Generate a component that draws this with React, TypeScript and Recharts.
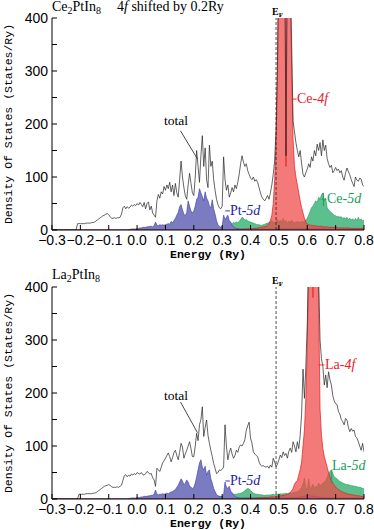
import React from 'react';
import { ComposedChart, Area, Line, XAxis, YAxis } from 'recharts';

// energy grid: -0.3 .. 0.8 Ry, 0.005 Ry per point (221 points, 20 per row)
const E_START = -0.3;
const E_STEP = 0.005;

// Ce2PtIn8 (4f shifted by 0.2Ry)
const CE_TOTAL = [
  0, 0, 0, 0, 0, 0, 0, 0, 0, 0, 0, 0, 0, 0, 0, 0, 0, 0, 12, 12,
  12, 12, 12, 12, 13, 13, 13, 13, 14, 14, 15, 17, 19, 21, 23, 25, 27, 28, 30, 31,
  29, 25, 22, 22, 23, 22, 23, 23, 24, 30, 42, 45, 40, 44, 41, 43, 47, 45, 48, 46,
  50, 47, 52, 48, 44, 52, 40, 50, 53, 38, 45, 32, 28, 24, 55, 67, 60, 72, 68, 82,
  75, 85, 78, 90, 72, 85, 65, 88, 70, 62, 95, 130, 100, 80, 65, 58, 85, 107, 88, 70,
  65, 100, 150, 120, 90, 140, 178, 120, 155, 95, 80, 160, 120, 130, 95, 75, 58, 48, 42, 40,
  45, 138, 95, 75, 85, 62, 70, 80, 72, 85, 78, 90, 105, 125, 140, 128, 120, 125, 112, 105,
  98, 95, 100, 92, 95, 90, 80, 70, 62, 58, 55, 60, 65, 58, 70, 85, 105, 130, 190, 320,
  560, 690, 600, 520, 640, 140, 620, 680, 490, 350, 205, 185, 165, 150, 138, 150, 125, 105, 100, 108,
  115, 125, 118, 138, 130, 150, 140, 162, 150, 165, 140, 170, 150, 160, 135, 125, 118, 122, 108, 112,
  118, 112, 115, 108, 112, 100, 94, 108, 117, 110, 104, 95, 88, 82, 100, 94, 92, 98, 96, 85,
  82,
];
const CE_PT5D = [
  0, 0, 0, 0, 0, 0, 0, 0, 0, 0, 0, 0, 0, 0, 0, 0, 0, 0, 0, 0,
  0, 0, 0, 0, 0, 0, 0, 0, 0, 0, 0, 0, 0, 0, 0, 0, 0, 0, 0, 0,
  0, 0, 0, 0, 0, 0, 0, 0, 0, 0, 0, 0, 0, 0, 1, 1, 2, 2, 2, 2,
  3, 3, 4, 4, 5, 5, 5, 6, 6, 7, 7, 6, 8, 15, 9, 8, 10, 9, 10, 9,
  10, 11, 12, 11, 16, 14, 18, 22, 28, 33, 44, 48, 38, 30, 27, 33, 55, 45, 36, 32,
  36, 45, 58, 62, 78, 70, 63, 55, 72, 60, 55, 45, 42, 57, 40, 30, 18, 10, 7, 5,
  6, 28, 20, 24, 28, 18, 15, 9, 6, 4, 3, 3, 2, 2, 2, 2, 2, 2, 2, 2,
  2, 2, 2, 2, 2, 2, 2, 2, 2, 2, 2, 2, 2, 2, 2, 2, 2, 2, 2, 2,
  2, 2, 3, 2, 2, 3, 2, 2, 3, 2, 2, 3, 2, 2, 3, 2, 2, 3, 3, 3,
  3, 3, 4, 3, 3, 4, 3, 3, 3, 3, 3, 3, 3, 2, 2, 2, 2, 2, 2, 2,
  2, 2, 2, 2, 2, 2, 2, 2, 2, 2, 2, 2, 2, 2, 2, 2, 2, 2, 2, 2,
  2,
];
const CE_5D = [
  0, 0, 0, 0, 0, 0, 0, 0, 0, 0, 0, 0, 0, 0, 0, 0, 0, 0, 0, 0,
  0, 0, 0, 0, 0, 0, 0, 0, 0, 0, 0, 0, 0, 0, 0, 0, 0, 0, 0, 0,
  0, 0, 0, 0, 0, 0, 0, 0, 0, 0, 0, 0, 0, 0, 0, 0, 0, 0, 0, 0,
  1, 1, 1, 1, 2, 2, 2, 2, 2, 2, 3, 3, 3, 3, 3, 3, 3, 3, 3, 3,
  3, 4, 3, 4, 4, 4, 4, 4, 5, 4, 5, 5, 5, 5, 4, 5, 5, 5, 5, 5,
  5, 5, 6, 5, 6, 6, 6, 6, 5, 6, 6, 6, 5, 5, 5, 5, 5, 5, 5, 5,
  6, 7, 8, 9, 10, 10, 11, 12, 14, 13, 15, 14, 16, 20, 24, 22, 18, 20, 17, 16,
  15, 14, 13, 12, 11, 10, 10, 9, 9, 10, 11, 12, 13, 14, 16, 18, 15, 14, 17, 20,
  14, 19, 13, 22, 15, 18, 12, 17, 14, 19, 13, 15, 14, 16, 15, 14, 16, 15, 17, 19,
  22, 28, 35, 42, 45, 50, 55, 52, 62, 58, 66, 70, 55, 60, 42, 38, 35, 33, 30, 28,
  27, 25, 26, 24, 25, 22, 23, 21, 24, 20, 22, 19, 21, 18, 22, 17, 24, 18, 21, 17,
  19,
];
const CE_4F = [
  0, 0, 0, 0, 0, 0, 0, 0, 0, 0, 0, 0, 0, 0, 0, 0, 0, 0, 0, 0,
  0, 0, 0, 0, 0, 0, 0, 0, 0, 0, 0, 0, 0, 0, 0, 0, 0, 0, 0, 0,
  0, 0, 0, 0, 0, 0, 0, 0, 0, 0, 0, 0, 0, 0, 0, 0, 0, 0, 0, 0,
  0, 0, 0, 0, 0, 0, 0, 0, 0, 0, 0, 0, 0, 0, 0, 0, 0, 0, 0, 0,
  0, 0, 0, 0, 0, 0, 0, 0, 0, 0, 0, 0, 0, 0, 0, 0, 0, 0, 0, 0,
  0, 0, 0, 0, 0, 0, 0, 0, 0, 0, 0, 0, 0, 0, 0, 0, 0, 0, 0, 0,
  0, 0, 0, 0, 0, 0, 0, 0, 0, 0, 1, 1, 1, 1, 1, 1, 1, 2, 2, 2,
  2, 2, 3, 3, 3, 4, 4, 5, 5, 6, 6, 7, 9, 12, 18, 28, 50, 95, 165, 290,
  520, 650, 560, 480, 600, 120, 580, 640, 450, 300, 170, 120, 100, 85, 70, 55, 42, 32, 22, 15,
  11, 10, 9, 9, 8, 8, 8, 7, 7, 7, 7, 6, 6, 6, 6, 5, 5, 5, 5, 5,
  5, 5, 4, 4, 4, 4, 4, 4, 4, 4, 4, 3, 3, 3, 3, 3, 3, 3, 3, 3,
  3,
];

// La2PtIn8
const LA_TOTAL = [
  0, 0, 0, 0, 0, 0, 0, 0, 0, 0, 0, 0, 0, 0, 0, 0, 0, 0, 0, 9,
  9, 9, 9, 9, 10, 10, 10, 10, 10, 11, 11, 12, 14, 16, 18, 20, 22, 24, 25, 26,
  27, 26, 23, 22, 22, 22, 23, 22, 24, 26, 35, 44, 46, 42, 45, 43, 47, 45, 48, 46,
  50, 48, 47, 50, 46, 45, 48, 52, 50, 47, 48, 40, 36, 24, 58, 55, 52, 60, 68, 72,
  77, 82, 87, 80, 70, 78, 88, 92, 82, 74, 88, 105, 98, 77, 85, 92, 100, 108, 95, 80,
  80, 100, 124, 110, 140, 150, 174, 118, 135, 149, 120, 105, 92, 80, 67, 58, 48, 50, 55, 54,
  56, 60, 140, 100, 74, 88, 96, 85, 77, 82, 92, 88, 98, 102, 100, 105, 112, 130, 138, 145,
  115, 105, 89, 85, 82, 80, 70, 64, 62, 63, 61, 60, 62, 58, 64, 60, 77, 70, 61, 66,
  74, 83, 78, 89, 82, 86, 77, 90, 96, 88, 108, 100, 89, 108, 95, 120, 160, 245, 190, 250,
  330, 470, 650, 560, 420, 640, 700, 600, 420, 300, 265, 250, 215, 234, 210, 240, 225, 215, 195, 185,
  180, 178, 165, 160, 150, 146, 140, 152, 149, 135, 127, 133, 128, 130, 118, 115, 108, 100, 92, 105,
  89,
];
const LA_PT5D = [
  0, 0, 0, 0, 0, 0, 0, 0, 0, 0, 0, 0, 0, 0, 0, 0, 0, 0, 0, 0,
  0, 0, 0, 0, 0, 0, 0, 0, 0, 0, 0, 0, 0, 0, 0, 0, 0, 0, 0, 0,
  0, 0, 0, 0, 0, 0, 0, 0, 0, 0, 0, 0, 0, 0, 1, 1, 2, 2, 2, 2,
  3, 3, 3, 4, 4, 5, 5, 5, 6, 6, 7, 7, 9, 17, 9, 8, 9, 9, 10, 9,
  10, 11, 10, 12, 13, 14, 16, 18, 22, 26, 32, 38, 34, 27, 30, 36, 32, 25, 22, 20,
  22, 30, 42, 55, 68, 74, 60, 55, 62, 45, 52, 55, 38, 30, 20, 14, 9, 6, 5, 4,
  4, 8, 32, 22, 20, 24, 15, 12, 8, 5, 3, 3, 2, 2, 2, 2, 2, 2, 2, 2,
  2, 2, 2, 2, 2, 2, 2, 2, 2, 2, 2, 2, 2, 2, 2, 2, 2, 2, 2, 2,
  2, 2, 2, 2, 2, 3, 2, 2, 3, 2, 2, 3, 3, 3, 3, 4, 4, 5, 5, 6,
  6, 7, 6, 5, 6, 5, 5, 4, 4, 3, 3, 3, 3, 3, 2, 2, 2, 2, 2, 2,
  2, 2, 2, 2, 2, 2, 2, 2, 2, 2, 2, 2, 2, 2, 2, 2, 2, 2, 2, 2,
  2,
];
const LA_5D = [
  0, 0, 0, 0, 0, 0, 0, 0, 0, 0, 0, 0, 0, 0, 0, 0, 0, 0, 0, 0,
  0, 0, 0, 0, 0, 0, 0, 0, 0, 0, 0, 0, 0, 0, 0, 0, 0, 0, 0, 0,
  0, 0, 0, 0, 0, 0, 0, 0, 0, 0, 0, 0, 0, 0, 0, 0, 0, 0, 0, 0,
  1, 1, 1, 1, 2, 2, 2, 2, 2, 2, 3, 3, 3, 3, 3, 3, 3, 3, 3, 3,
  3, 3, 4, 3, 4, 4, 4, 4, 4, 4, 5, 4, 5, 5, 4, 5, 5, 5, 5, 5,
  5, 5, 5, 5, 6, 5, 6, 6, 5, 6, 5, 5, 5, 5, 5, 5, 5, 5, 5, 5,
  5, 6, 7, 7, 7, 8, 8, 8, 9, 9, 9, 10, 10, 11, 12, 13, 16, 18, 20, 19,
  16, 13, 11, 10, 9, 9, 8, 8, 8, 7, 7, 7, 8, 7, 8, 8, 9, 8, 9, 9,
  9, 10, 9, 10, 10, 11, 10, 11, 12, 11, 12, 13, 12, 14, 15, 18, 22, 28, 40, 20,
  18, 38, 20, 22, 28, 20, 24, 22, 30, 25, 28, 30, 32, 35, 40, 48, 52, 55, 48, 42,
  40, 38, 35, 33, 32, 30, 29, 28, 27, 27, 26, 25, 25, 24, 24, 23, 22, 22, 21, 20,
  20,
];
const LA_4F = [
  0, 0, 0, 0, 0, 0, 0, 0, 0, 0, 0, 0, 0, 0, 0, 0, 0, 0, 0, 0,
  0, 0, 0, 0, 0, 0, 0, 0, 0, 0, 0, 0, 0, 0, 0, 0, 0, 0, 0, 0,
  0, 0, 0, 0, 0, 0, 0, 0, 0, 0, 0, 0, 0, 0, 0, 0, 0, 0, 0, 0,
  0, 0, 0, 0, 0, 0, 0, 0, 0, 0, 0, 0, 0, 0, 0, 0, 0, 0, 0, 0,
  0, 0, 0, 0, 0, 0, 0, 0, 0, 0, 0, 0, 0, 0, 0, 0, 0, 0, 0, 0,
  0, 0, 0, 0, 0, 0, 0, 0, 0, 0, 0, 0, 0, 0, 0, 0, 0, 0, 0, 0,
  0, 0, 0, 0, 0, 0, 0, 0, 0, 0, 0, 0, 0, 0, 0, 1, 1, 1, 1, 1,
  1, 1, 1, 1, 2, 2, 2, 2, 2, 3, 3, 3, 3, 3, 4, 4, 4, 4, 5, 5,
  5, 6, 6, 7, 7, 8, 9, 10, 12, 16, 20, 28, 32, 35, 45, 55, 70, 100, 130, 190,
  290, 440, 620, 530, 380, 610, 670, 560, 380, 170, 120, 95, 80, 70, 60, 50, 42, 35, 30, 26,
  23, 20, 18, 16, 14, 13, 12, 11, 10, 9, 9, 8, 8, 7, 7, 6, 6, 6, 5, 5,
  5,
];

const X_TICKS = [-0.3, -0.2, -0.1, 0, 0.1, 0.2, 0.3, 0.4, 0.5, 0.6, 0.7, 0.8];
const Y_TICKS = [0, 50, 100, 150, 200, 250, 300, 350, 400];
const FERMI = 0.49;

const SERIF = '"Liberation Serif", "Times New Roman", serif';
const SANS = '"Liberation Sans", Arial, sans-serif';
const MONO = '"Liberation Mono", "Courier New", monospace';

const BLUE_FILL = '#7b7bc2';
const BLUE_LINE = '#3a3aa6';
const GREEN_FILL = '#5cc08e';
const GREEN_LINE = '#1b9a55';
const RED_FILL = '#f04646';
const RED_LINE = '#e31b1b';
const PT_TEXT = '#2424a0';
const D_TEXT = '#14a05a';
const F_TEXT = '#e8202a';

type Row = { e: number; total: number; pt: number; d: number; f: number };
type Pt = { e: number; v: number };
type Leader = { pts: Pt[]; color: string };

const buildRows = (total: number[], pt: number[], d: number[], f: number[]): Row[] =>
  total.map((t, i) => ({
    e: Math.round((E_START + i * E_STEP) * 1000) / 1000,
    total: t,
    pt: pt[i],
    d: d[i],
    f: f[i],
  }));

const CE_ROWS = buildRows(CE_TOTAL, CE_PT5D, CE_5D, CE_4F);
const LA_ROWS = buildRows(LA_TOTAL, LA_PT5D, LA_5D, LA_4F);

// Fermi level, drawn as a dashed vertical series over the whole range
const FERMI_LINE: Pt[] = [{ e: FERMI, v: 0 }, { e: FERMI, v: 400 }];

// leader lines from the labels, in data units (Ry, States/Ry)
const CE_LEADERS: Leader[] = [
  { pts: [{ e: 0.153, v: 187 }, { e: 0.213, v: 134 }], color: '#333' },
  { pts: [{ e: 0.311, v: 36 }, { e: 0.327, v: 36 }], color: PT_TEXT },
  { pts: [{ e: 0.657, v: 70 }, { e: 0.657, v: 45 }], color: D_TEXT },
  { pts: [{ e: 0.65, v: 58 }, { e: 0.667, v: 58 }], color: D_TEXT },
  { pts: [{ e: 0.545, v: 247 }, { e: 0.563, v: 247 }], color: F_TEXT },
];
const LA_LEADERS: Leader[] = [
  { pts: [{ e: 0.153, v: 183 }, { e: 0.213, v: 125 }], color: '#333' },
  { pts: [{ e: 0.311, v: 34 }, { e: 0.327, v: 34 }], color: PT_TEXT },
  { pts: [{ e: 0.686, v: 55 }, { e: 0.686, v: 30 }], color: D_TEXT },
  { pts: [{ e: 0.64, v: 253 }, { e: 0.661, v: 253 }], color: F_TEXT },
];

const fmtX = (v: number) => (v < 0 ? '\u2212' + Math.abs(v).toFixed(1) : v.toFixed(1));
const fmtY = (v: number) => (v % 100 === 0 ? String(v) : '');
const TICK_STYLE = { fill: '#000', fontSize: 14, fontFamily: SANS };

const DosPanel: React.FC<{ rows: Row[]; leaders: Leader[] }> = ({ rows, leaders }) => (
  <ComposedChart width={374} height={262} data={rows} margin={{ top: 18, right: 10, bottom: 2, left: 0 }}>
    <XAxis
      dataKey="e"
      type="number"
      domain={[-0.3, 0.8]}
      ticks={X_TICKS}
      interval={0}
      tickFormatter={fmtX}
      tickSize={-5}
      tickMargin={10}
      height={30}
      stroke="#000"
      tick={TICK_STYLE}
      allowDataOverflow
    />
    <XAxis
      xAxisId="top"
      orientation="top"
      dataKey="e"
      type="number"
      domain={[-0.3, 0.8]}
      ticks={X_TICKS}
      interval={0}
      mirror
      tick={false}
      height={0}
      tickSize={5}
      stroke="#000"
      allowDataOverflow
    />
    <YAxis
      domain={[0, 400]}
      ticks={Y_TICKS}
      interval={0}
      tickFormatter={fmtY}
      tickSize={-5}
      tickMargin={9}
      width={52}
      stroke="#000"
      tick={TICK_STYLE}
      allowDataOverflow
    />
    <YAxis
      yAxisId="right"
      orientation="right"
      domain={[0, 400]}
      ticks={Y_TICKS}
      interval={0}
      mirror
      tick={false}
      width={0}
      tickSize={5}
      stroke="#000"
      allowDataOverflow
    />
    <Line type="linear" dataKey="total" stroke="#222" strokeWidth={0.7} dot={false} activeDot={false} isAnimationActive={false} />
    <Area type="linear" dataKey="d" stroke={GREEN_LINE} strokeWidth={0.6} fill={GREEN_FILL} fillOpacity={1} isAnimationActive={false} />
    <Area type="linear" dataKey="pt" stroke={BLUE_LINE} strokeWidth={0.6} fill={BLUE_FILL} fillOpacity={1} isAnimationActive={false} />
    <Area type="linear" dataKey="f" stroke={RED_LINE} strokeWidth={0.7} fill={RED_FILL} fillOpacity={0.72} isAnimationActive={false} />
    <Line
      data={FERMI_LINE}
      dataKey="v"
      type="linear"
      stroke="#222"
      strokeWidth={0.8}
      strokeDasharray="3 2"
      dot={false}
      activeDot={false}
      isAnimationActive={false}
    />
    {leaders.map((l, i) => (
      <Line
        key={i}
        data={l.pts}
        dataKey="v"
        type="linear"
        stroke={l.color}
        strokeWidth={0.9}
        dot={false}
        activeDot={false}
        isAnimationActive={false}
      />
    ))}
  </ComposedChart>
);

const PanelText: React.FC<{ top: number; title: React.ReactNode; d5: string; f4: string; totalY: number; ptY: number; d5Pos: [number, number]; f4Pos: [number, number] }> = ({
  top, title, d5, f4, totalY, ptY, d5Pos, f4Pos,
}) => (
  <g>
    {title}
    <text x={272} y={top + 15} fontFamily={SERIF} fontWeight="bold" fontSize={10}>
      E<tspan dy={2} fontSize={7}>F</tspan>
    </text>
    <text transform="rotate(-90)" x={-(top + 124)} y={12} textAnchor="middle" fontFamily={MONO} fontSize={11.5}>
      Density Of States (States/Ry)
    </text>
    <text x={208} y={top + 258} textAnchor="middle" fontFamily={MONO} fontWeight="bold" fontSize={11.5}>
      Energy (Ry)
    </text>
    <text x={176} y={totalY} textAnchor="middle" fontFamily={SERIF} fontSize={13.5}>total</text>
    <text x={230} y={ptY} fontFamily={SERIF} fontSize={14} fill={PT_TEXT}>
      Pt-<tspan fontStyle="italic">5d</tspan>
    </text>
    <text x={d5Pos[0]} y={d5Pos[1]} fontFamily={SERIF} fontSize={14} fill={D_TEXT}>
      {d5}-<tspan fontStyle="italic">5d</tspan>
    </text>
    <text x={f4Pos[0]} y={f4Pos[1]} fontFamily={SERIF} fontSize={14} fill={F_TEXT}>
      {f4}-<tspan fontStyle="italic">4f</tspan>
    </text>
  </g>
);

const App: React.FC = () => (
  <div style={{ position: 'relative', width: 374, height: 530, overflow: 'hidden', background: '#fff' }}>
    <style>{'body{margin:0;}'}</style>
    <div style={{ position: 'absolute', left: 0, top: 0 }}>
      <DosPanel rows={CE_ROWS} leaders={CE_LEADERS} />
    </div>
    <div style={{ position: 'absolute', left: 0, top: 269 }}>
      <DosPanel rows={LA_ROWS} leaders={LA_LEADERS} />
    </div>
    <svg width={374} height={530} style={{ position: 'absolute', left: 0, top: 0, pointerEvents: 'none' }}>
      <PanelText
        top={0}
        title={
          <g fontFamily={SERIF} fontSize={14}>
            <text x={52} y={11}>
              Ce<tspan dy={3} fontSize={10}>2</tspan><tspan dy={-3}>PtIn</tspan><tspan dy={3} fontSize={10}>8</tspan>
            </text>
            <text x={117} y={11}>
              4<tspan fontStyle="italic">f</tspan> shifted by 0.2Ry
            </text>
          </g>
        }
        d5="Ce"
        f4="Ce"
        totalY={125}
        ptY={215}
        d5Pos={[327, 203]}
        f4Pos={[297, 103]}
      />
      <PanelText
        top={269}
        title={
          <text x={52} y={279} fontFamily={SERIF} fontSize={14}>
            La<tspan dy={3} fontSize={10}>2</tspan><tspan dy={-3}>PtIn</tspan><tspan dy={3} fontSize={10}>8</tspan>
          </text>
        }
        d5="La"
        f4="La"
        totalY={400}
        ptY={485}
        d5Pos={[332, 470]}
        f4Pos={[325, 369]}
      />
    </svg>
  </div>
);

export default App;
